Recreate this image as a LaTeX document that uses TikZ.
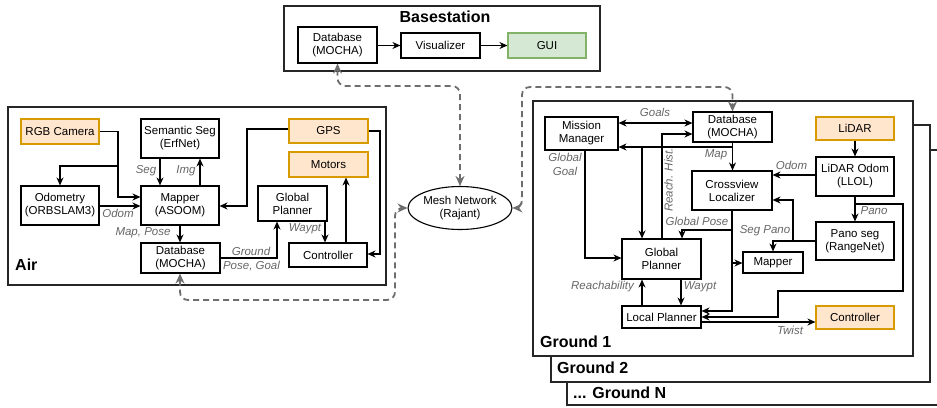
\documentclass[tikz,border=0pt]{standalone}
\usepackage{fontspec}
\setmainfont{Liberation Sans}
\usetikzlibrary{arrows.meta,shapes.geometric}
\definecolor{orfill}{HTML}{FFE6CC}
\definecolor{ordraw}{HTML}{D79B00}
\definecolor{grfill}{HTML}{D5E8D4}
\definecolor{grdraw}{HTML}{82B366}
\definecolor{lbl}{HTML}{666666}
\definecolor{dashgray}{HTML}{6E6E6E}
\begin{document}
\begin{tikzpicture}[x=1pt,y=-1pt,
  every node/.style={inner sep=0pt, align=center, font=\fontsize{11.5}{13}\selectfont},
  box/.style={draw=black, line width=1.1pt, fill=white},
  sens/.style={draw=ordraw, line width=1.1pt, fill=orfill},
  guibox/.style={draw=grdraw, line width=1.1pt, fill=grfill},
  panel/.style={draw=black!85, line width=1.1pt, fill=white},
  arr/.style={line width=1.1pt, -{Stealth[length=8pt,width=7pt]}},
  darr/.style={line width=1.1pt, {Stealth[length=8pt,width=7pt]}-{Stealth[length=8pt,width=7pt]}},
  lab/.style={text=lbl, font=\fontsize{11.5}{13}\selectfont\itshape},
  ttl/.style={font=\fontsize{16}{19}\selectfont\bfseries},
  net/.style={draw=dashgray, line width=1.8pt, dash pattern=on 6pt off 4pt, rounded corners=8pt,
    {Stealth[length=10pt,width=9pt]}-{Stealth[length=10pt,width=9pt]}}]
\path[use as bounding box] (0,0) rectangle (937,407);

% panels
\draw[panel] (567,150) rectangle (950,405);
\draw[panel] (551,125) rectangle (930,382);
\draw[panel] (533,101) rectangle (913,356);
\draw[panel] (8,107) rectangle (386,285);
\draw[panel] (284,6) rectangle (600,71);

\node[ttl] (tbs) at (445,17) {Basestation};
\node[ttl, anchor=west] (tair) at (15,265) {Air};
\node[ttl, anchor=west] (tg1) at (540,342) {Ground 1};
\node[ttl, anchor=west] (tg2) at (557,368) {Ground 2};
\node[ttl, anchor=west] (tgn) at (573,393) {... Ground N};

% basestation nodes
\node[box, minimum width=79pt, minimum height=36pt] (bsdb) at (337.5,45) {Database\\(MOCHA)};
\node[box, minimum width=79pt, minimum height=25pt] (vis) at (440.5,45.5) {Visualizer};
\node[guibox, minimum width=78pt, minimum height=25pt] (gui) at (547,45.5) {GUI};

% air nodes
\node[sens, minimum width=78pt, minimum height=25pt] (rgb) at (60,131.5) {RGB Camera};
\node[box, minimum width=78pt, minimum height=39pt] (sem) at (180,138.5) {Semantic Seg\\(ErfNet)};
\node[box, minimum width=78pt, minimum height=39pt] (odo) at (60,205.5) {Odometry\\(ORBSLAM3)};
\node[box, minimum width=78pt, minimum height=39pt] (map) at (180,205.5) {Mapper\\(ASOOM)};
\node[box, minimum width=79pt, minimum height=30pt] (adb) at (180.5,258) {Database\\(MOCHA)};
\node[sens, minimum width=79pt, minimum height=24pt] (gps) at (328.5,131) {GPS};
\node[sens, minimum width=79pt, minimum height=25pt] (mot) at (328.5,164.5) {Motors};
\node[box, minimum width=69pt, minimum height=35pt] (agp) at (292.5,203.5) {Global\\Planner};
\node[box, minimum width=78pt, minimum height=24pt] (actl) at (328,255) {Controller};

% mesh
\node[draw, ellipse, line width=1.1pt, fill=white, minimum width=95pt, minimum height=43pt] (mesh) at (460,208) {Mesh Network\\(Rajant)};

% ground nodes
\node[box, minimum width=73pt, minimum height=33pt] (mm) at (581.5,133.5) {Mission\\Manager};
\node[box, minimum width=79pt, minimum height=30pt] (gdb) at (732.5,127) {Database\\(MOCHA)};
\node[sens, minimum width=78pt, minimum height=23pt] (lidar) at (855,128.5) {LiDAR};
\node[box, minimum width=78pt, minimum height=39pt] (lo) at (855,176.5) {LiDAR Odom\\(LLOL)};
\node[box, minimum width=80pt, minimum height=39pt] (cv) at (732,190.5) {Crossview\\Localizer};
\node[box, minimum width=78pt, minimum height=38pt] (ps) at (855,241) {Pano seg\\(RangeNet)};
\node[box, minimum width=60pt, minimum height=21pt] (gmap) at (773,262.5) {Mapper};
\node[box, minimum width=79pt, minimum height=40pt] (ggp) at (661.5,259) {Global\\Planner};
\node[box, minimum width=79pt, minimum height=22pt] (lp) at (661.5,317) {Local Planner};
\node[sens, minimum width=78pt, minimum height=23pt] (gctl) at (855,317.5) {Controller};

% basestation edges
\draw[arr] (bsdb.east |- 0,45.5) -- (vis.west);
\draw[arr] (vis.east) -- (gui.west);

% air edges
\draw[arr] (rgb.east) -- (118,131.5) -- (118,166) -- (60,166) -- (odo.north);
\draw[arr] (118,166) -- (118,197) -- (map.west |- 0,197);
\draw[arr] (odo.east |- 0,206) -- (map.west |- 0,206);
\node[lab] (lodom) at (118,213) {Odom};
\draw[arr] (sem.south -| 160,0) -- (map.north -| 160,0);
\node[lab] (lseg) at (146,171) {Seg};
\draw[arr] (map.north -| 200,0) -- (sem.south -| 200,0);
\node[lab] (limg) at (186,171) {Img};
\draw[arr] (gps.west |- 0,129) -- (247,129) -- (247,206) -- (map.east |- 0,206);
\draw[arr] (gps.east |- 0,131) -- (380,131) -- (380,254) -- (actl.east |- 0,254);
\draw[arr] (actl.north -| 346,0) -- (mot.south -| 346,0);
\draw[arr] (agp.south -| 325,0) -- (actl.north -| 325,0);
\node[lab] (lwa) at (305,229) {Waypt};
\draw[arr] (map.south) -- (adb.north -| map.south);
\node[lab] (lmp) at (143,233) {Map, Pose};
\draw[arr] (adb.east |- 0,258) -- (277,258) -- (agp.south -| 277,0);
\node[lab] (lgr) at (251,251) {Ground};
\node[lab] (lpg) at (251.5,266) {Pose, Goal};

% network
\draw[net] (bsdb.south) -- (337.5,86) -- (460,86) -- (mesh.north);
\draw[net] (adb.south -| 180,0) -- (180,300) -- (395,300) -- (395,208) -- (mesh.west);
\draw[net] (mesh.east) -- (522,208) -- (522,87) -- (732.5,87) -- (gdb.north);

% ground edges
\draw[darr] (mm.east |- 0,123) -- (gdb.west |- 0,123);
\node[lab] (lgoals) at (655,112) {Goals};
\draw[arr] (ggp.north -| 662,0) -- (662,134) -- (gdb.west |- 0,134);
\node[lab, rotate=90] (lrh) at (668.5,180) {Reach. Hist.};
\draw[arr] (gdb.south) -- (732.5,147) -- (mm.east |- 0,147);
\draw[arr] (642,147) -- (ggp.north -| 642,0);
\draw[arr] (gdb.south) -- (cv.north -| 732.5,0);
\node[lab] (lmap) at (716,155) {Map};
\draw[arr] (mm.south -| 585,0) -- (585,258) -- (ggp.west |- 0,258);
\node[lab] (lgg) at (565,164) {Global\\[1pt]Goal};
\draw[arr] (cv.south) -- (732,230) -- (682,230) -- (ggp.north -| 682,0);
\node[lab] (lgp) at (697,221) {Global Pose};
\draw[arr] (732,230) -- (732,263) -- (gmap.west |- 0,263);
\draw[arr] (732,263) -- (732,311) -- (lp.east |- 0,311);
\draw[arr] (lidar.south) -- (lo.north);
\draw[arr] (lo.west |- 0,175) -- (cv.east |- 0,175);
\node[lab] (lodg) at (791.5,165) {Odom};
\draw[arr] (lo.south) -- (ps.north);
\node[lab] (lpano) at (874,211) {Pano};
\draw[arr] (855,204) -- (903,204) -- (903,291) -- (778,291) -- (778,317) -- (lp.east |- 0,317);
\draw[arr] (ps.west |- 0,241) -- (793,241) -- (793,200) -- (cv.east |- 0,200);
\draw[arr] (793,241) -- (773,241) -- (gmap.north);
\node[lab] (lsp) at (765,231) {Seg Pano};
\draw[arr] (lp.north -| 642,0) -- (ggp.south -| 642,0);
\node[lab] (lreach) at (602.5,287) {Reachability};
\draw[arr] (ggp.south -| 681,0) -- (lp.north -| 681,0);
\node[lab] (lwg) at (700,287) {Waypt};
\draw[arr] (lp.east |- 0,322) -- (gctl.west |- 0,322);
\node[lab] (ltw) at (790,330) {Twist};
\end{tikzpicture}
\end{document}
